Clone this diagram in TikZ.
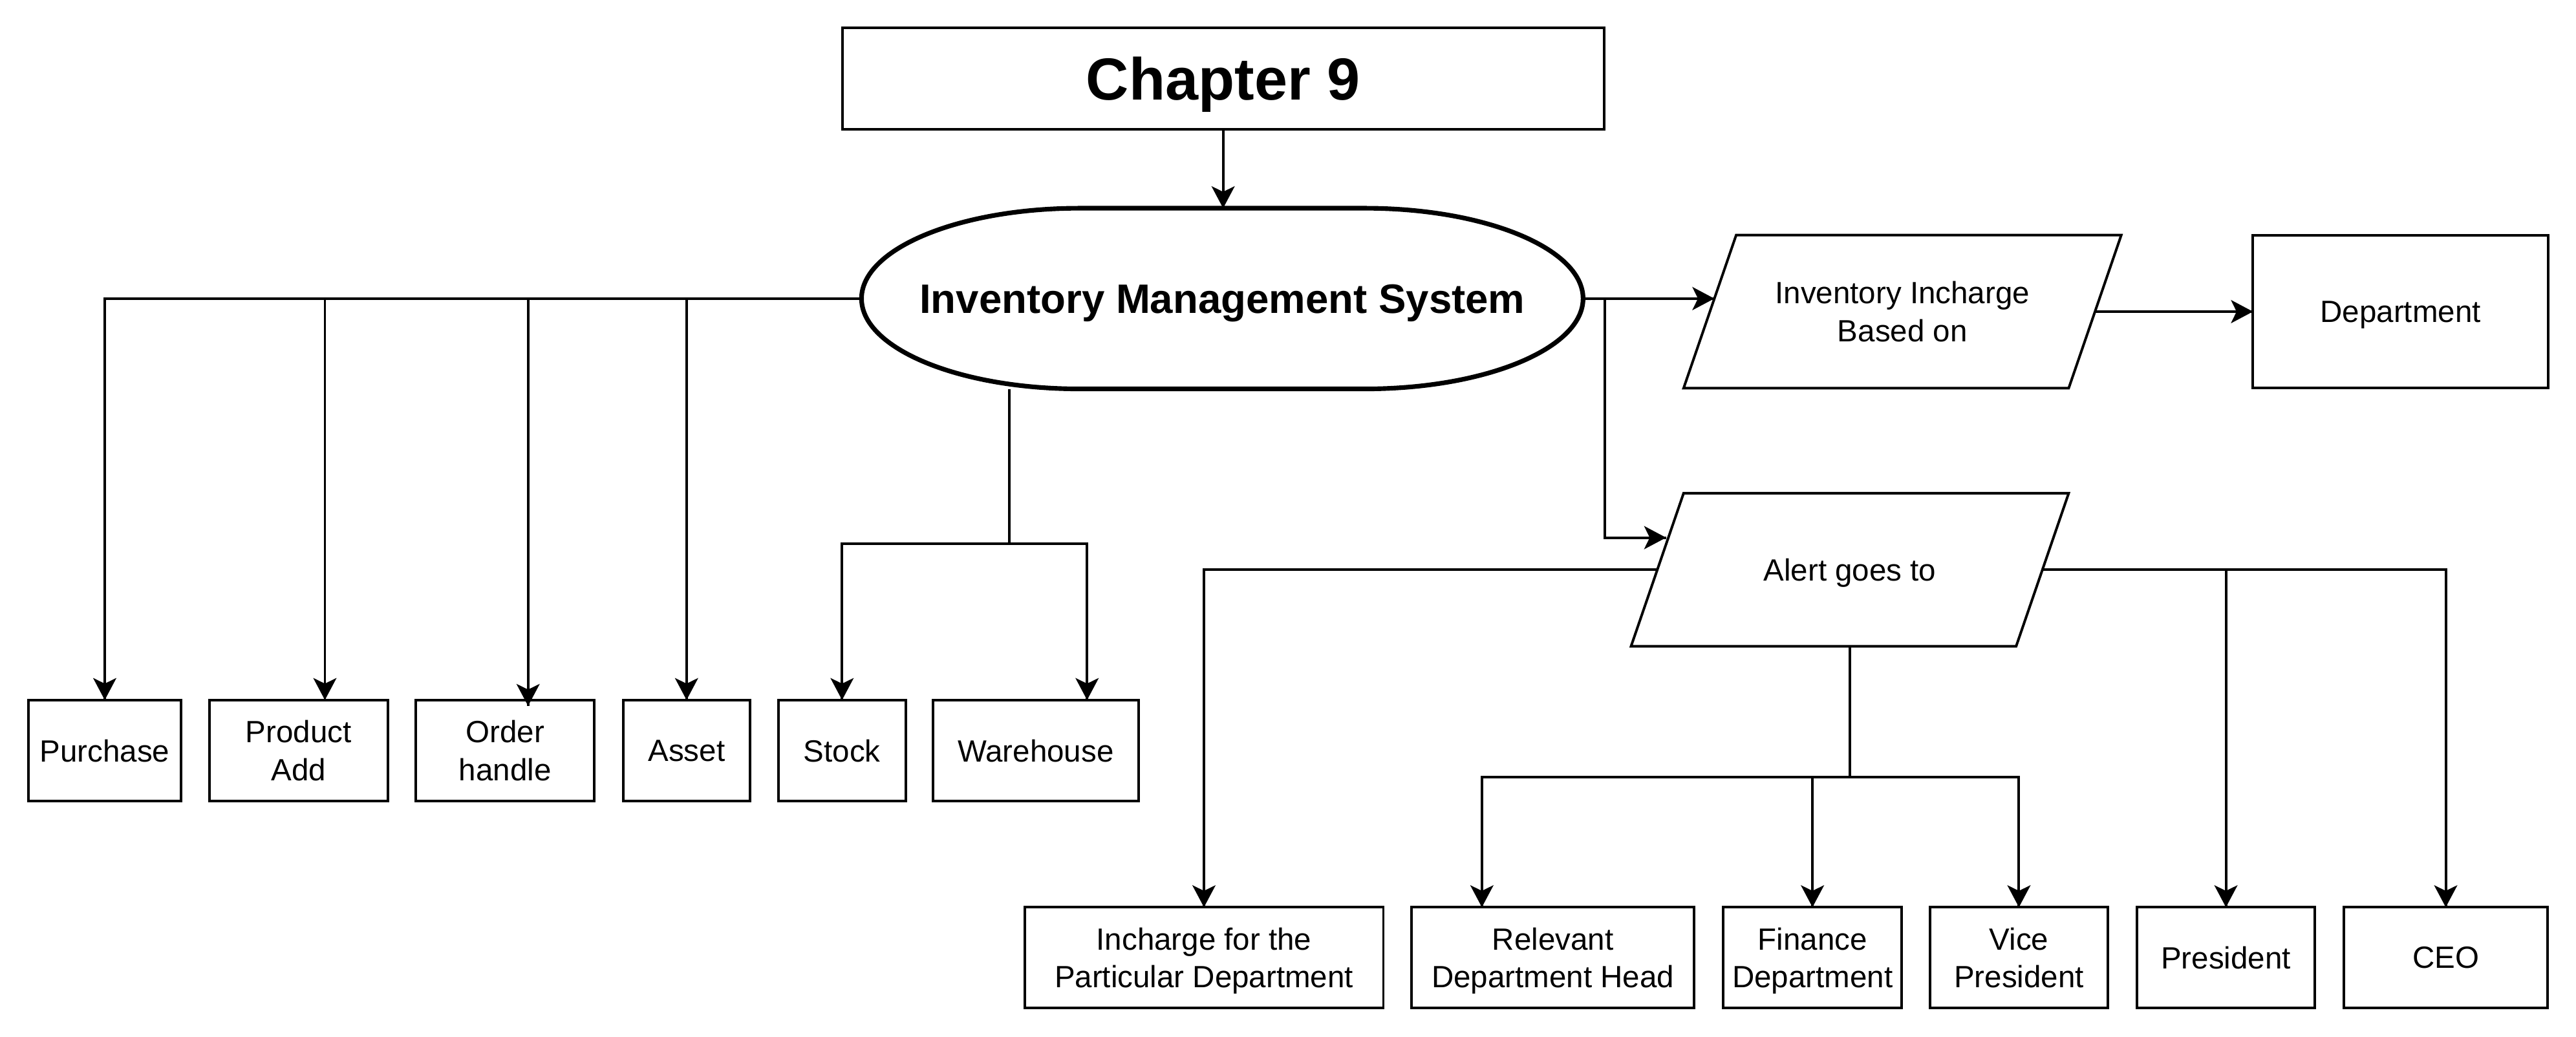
\documentclass[tikz,border=0pt]{standalone}
\usepackage{fontspec}
\setmainfont{Liberation Sans}
\usetikzlibrary{arrows.meta}
\usetikzlibrary{decorations.markings}
\usetikzlibrary{positioning}
\tikzset{arr/.style = {decoration={markings,
                                  mark=at position 1 with {\arrow{Stealth[length=9.5pt, width=10pt, inset=2.4pt]}}},
                      postaction={decorate}}}
\tikzset{box/.style = {draw, minimum height=1.54cm, align=center, inner sep=0pt,
                       outer sep=0pt, text depth=0pt, font=\fontsize{13.3}{16.5}\selectfont}}
\tikzset{para/.style = {box, draw=none, minimum width=5.86cm, minimum height=2.33cm}}

\begin{document}
\begin{tikzpicture}[line width=1.1pt]
    \useasboundingbox (0, 0) rectangle (39.2, -15.782);

    \node [box, minimum width=11.59cm, minimum height=1.55cm,
           font=\fontsize{25.7}{30}\selectfont\bfseries] (ch) at (18.6125, -1.196) {Chapter 9};
    \node [box, draw=none, minimum width=10.98cm, minimum height=2.75cm,
           font=\fontsize{17.8}{21}\selectfont\bfseries] (ims) at (18.6, -4.544) {Inventory Management System};
    \draw [line width=2pt] ([xshift=3.32cm]ims.north west) -- ([xshift=-3.32cm]ims.north east)
      arc [start angle=90, end angle=-90, x radius=3.32cm, y radius=1.375cm]
      -- ([xshift=3.32cm]ims.south west)
      arc [start angle=270, end angle=90, x radius=3.32cm, y radius=1.375cm] -- cycle;

    % first row
    \node [box, minimum width=2.32cm] (pur) at (1.594, -11.424) {Purchase};
    \node [box, minimum width=2.72cm] (prd) at (4.544, -11.424) {Product\\Add};
    \node [box, minimum width=2.71cm] (ord) at (7.686, -11.424) {Order\\handle};
    \node [box, minimum width=1.93cm] (ast) at (10.4475, -11.424) {Asset};
    \node [box, minimum width=1.94cm] (stk) at (12.814, -11.424) {Stock};
    \node [box, minimum width=3.125cm] (wh) at (15.7625, -11.424) {Warehouse};

    % right side
    \node [para] (inv) at (28.95, -4.7425) {Inventory Incharge\\Based on};
    \node [box, minimum width=4.49cm, minimum height=2.325cm] (dep) at (36.529, -4.7425) {Department};
    \node [para] (alert) at (28.15, -8.671) {Alert goes to};
    \foreach \n in {inv,alert}
      \draw ([xshift=-0.4cm]\n.south west) -- ([xshift=-0.4cm]\n.south east)
        -- ([xshift=0.4cm]\n.north east) -- ([xshift=0.4cm]\n.north west) -- cycle;

    % bottom row
    \node [box, minimum width=5.46cm, minimum height=1.535cm] (inch) at (18.321, -14.575) {Incharge for the\\Particular Department};
    \node [box, minimum width=4.295cm, minimum height=1.535cm] (rel) at (23.63, -14.575) {Relevant\\Department Head};
    \node [box, minimum width=2.72cm, minimum height=1.535cm] (fin) at (27.581, -14.575) {Finance\\Department};
    \node [box, minimum width=2.705cm, minimum height=1.535cm] (vp) at (30.7225, -14.575) {Vice\\President};
    \node [box, minimum width=2.705cm, minimum height=1.535cm] (pres) at (33.8725, -14.575) {President};
    \node [box, minimum width=3.095cm, minimum height=1.535cm] (ceo) at (37.2175, -14.575) {CEO};

    \draw [arr] (ch.south) -- (ch.south |- ims.north);

    % left branch
    \draw [arr] (ims.west) -| (pur.north);
    \foreach \n/\dx/\dy in {prd/0.4/0, ord/0.35/-0.09, ast/0/0} {
      \draw [arr] ([xshift=\dx cm]\n.north |- ims.west) -- ([xshift=\dx cm, yshift=\dy cm]\n.north);
    }

    % middle branch
    \coordinate (sw) at (15.36, -8.275);
    \draw (sw |- ims.south) -- (sw);
    \draw [arr] (sw) -| (stk.north);
    \draw [arr] (sw) -| ([xshift=0.78cm]wh.north);

    % right branch
    \coordinate (rb) at (24.42, -4.544);
    \coordinate (ain) at (25.3535, -8.1825);
    \draw [arr] (ims.east) -- ([xshift=0.0675cm]inv.west |- ims.east);
    \draw [arr] (rb) |- (ain);
    \draw [arr] (inv.east) -- (dep.west);

    \draw [arr] (alert.west) -| (inch.north);
    \draw [arr] (alert.east) -| (pres.north);
    \draw [arr] (alert.east) -| (ceo.north);
    \coordinate (ab) at ([yshift=-1.9865cm]alert.south);
    \draw (alert.south) -- (ab);
    \draw [arr] (ab) -| ([xshift=-1.08cm]rel.north);
    \draw [arr] (ab) -| (fin.north);
    \draw [arr] (ab) -| (vp.north);
  \end{tikzpicture}
\end{document}
